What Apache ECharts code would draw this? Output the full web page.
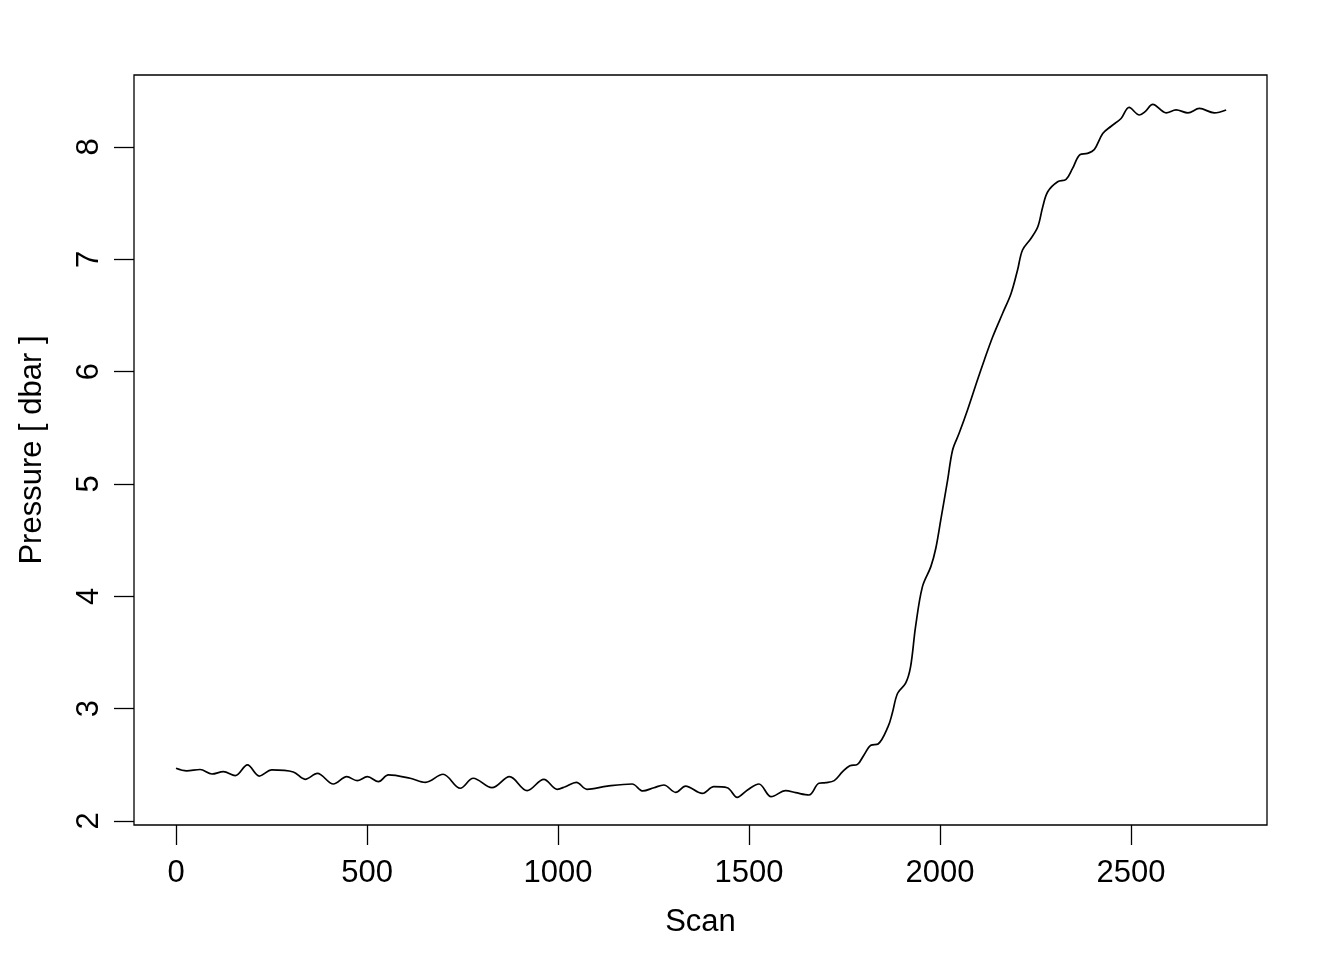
<!DOCTYPE html>
<html>
<head>
<meta charset="utf-8">
<script src="https://cdn.jsdelivr.net/npm/echarts@6/dist/echarts.min.js"></script>
<style>html,body{margin:0;padding:0;background:#fff}#c{width:1344px;height:960px}</style>
</head>
<body>
<div id="c"></div>
<script>
const scans = [0,28,63,94,124,155,187,218,251,307,338,370,412,447,474,501,530,556,613,653,699,744,778,
  827,873,919,963,998,1019,1048,1076,1129,1194,1222,1251,1277,1308,1334,1378,1408,1443,1469,1496,1526,1558,1596,1622,1657,
  1683,1701,1723,1745,1764,1784,1801,1819,1838,1864,1875,1889,1910,1923,1936,1954,1976,1989,2002,2020,2033,2050,2072,2098,
  2116,2138,2164,2186,2203,2216,2238,2256,2269,2282,2308,2330,2347,2367,2386,2404,2426,2448,2474,2495,2522,2537,2557,2592,2618,2649,2679,2718,2749];
const pressure = [2.469,2.446,2.458,2.418,2.439,2.403,2.499,2.400,2.454,2.436,2.371,2.423,2.329,2.394,2.359,2.394,2.350,2.410,2.380,2.344,2.416,2.291,2.380,
  2.296,2.394,2.270,2.371,2.282,2.305,2.344,2.282,2.310,2.329,2.267,2.296,2.320,2.255,2.310,2.245,2.305,2.296,2.210,2.276,2.329,2.216,2.270,2.252,2.231,
  2.336,2.341,2.359,2.439,2.492,2.504,2.588,2.674,2.685,2.839,2.958,3.137,3.226,3.374,3.730,4.086,4.264,4.428,4.680,5.036,5.303,5.451,5.659,5.926,
  6.104,6.311,6.520,6.696,6.905,7.083,7.186,7.290,7.469,7.602,7.691,7.711,7.809,7.934,7.943,7.978,8.120,8.185,8.254,8.352,8.285,8.315,8.379,8.304,8.330,8.304,8.343,8.304,8.330];
const xTicks = [0,500,1000,1500,2000,2500];
const yTicks = [2,3,4,5,6,7,8];
const xTitle = 'Scan';
const yTitle = 'Pressure [ dbar ]';

const data = scans.map((s,i)=>[s,pressure[i]]);
const font = 'Liberation Sans, Arial, Helvetica, sans-serif';
const chart = echarts.init(document.getElementById('c'), null, {renderer:'canvas'});
chart.setOption({
  animation:false,
  backgroundColor:'#fff',
  grid:{left:134,right:77,top:75,bottom:135,show:true,borderColor:'#000',borderWidth:1.3,backgroundColor:'transparent'},
  xAxis:{type:'value',min:-110,max:2856,
    name:xTitle,nameLocation:'middle',nameGap:82,
    nameTextStyle:{fontFamily:font,fontSize:31,color:'#000'},
    axisLine:{show:false,onZero:false},
    splitLine:{show:false},
    axisTick:{show:true,inside:false,length:20,customValues:xTicks,lineStyle:{color:'#000',width:1.3}},
    axisLabel:{show:true,margin:33,customValues:xTicks,formatter:v=>String(v),fontFamily:font,fontSize:31,color:'#000'}
  },
  yAxis:{type:'value',min:1.964,max:8.641,
    name:yTitle,nameLocation:'middle',nameGap:86,nameRotate:90,
    nameTextStyle:{fontFamily:font,fontSize:31,color:'#000'},
    axisLine:{show:false,onZero:false},
    splitLine:{show:false},
    axisTick:{show:true,inside:false,length:20,customValues:yTicks,lineStyle:{color:'#000',width:1.3}},
    axisLabel:{show:true,rotate:90,margin:29,customValues:yTicks,formatter:v=>String(v),fontFamily:font,fontSize:31,color:'#000'}
  },
  series:[{type:'line',data:data,showSymbol:false,smooth:0.35,
    lineStyle:{color:'#000',width:1.7},silent:true}]
});
</script>
</body>
</html>
